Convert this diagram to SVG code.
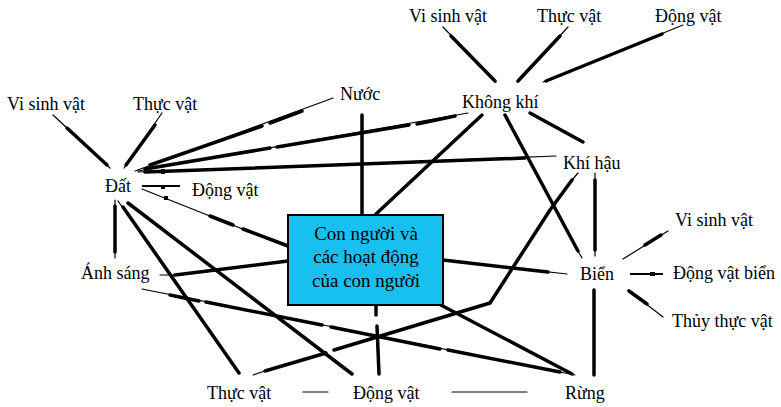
<svg xmlns="http://www.w3.org/2000/svg" width="781" height="407" viewBox="0 0 781 407">
<style>
.bg{fill:#ffffff}
text{font-family:"Liberation Serif","Times New Roman",serif;font-size:18px;fill:#000}
.box{fill:#18c0f0;stroke:#000;stroke-width:2}
.bt{font-size:19px;text-anchor:middle}
.t{stroke:#000;stroke-width:1.2;fill:none;stroke-linecap:round}
.m{stroke:#000;stroke-width:2;fill:none}
.k{stroke:#000;stroke-width:3.5;fill:none;stroke-linecap:round;stroke-linejoin:round}
.sq{fill:#000}
</style>
<rect class="bg" x="0" y="0" width="781" height="407"/>
<g id="connectors">
  <!-- Dat spokes -->
  <line class="t" x1="53" y1="115" x2="110" y2="168"/>
  <line class="k" x1="67" y1="128" x2="107" y2="165"/>
  <line class="t" x1="162" y1="113" x2="124" y2="168"/>
  <line class="k" x1="155" y1="125" x2="126" y2="165"/>
  <!-- Dat - Nuoc -->
  <line class="t" x1="135" y1="171" x2="333" y2="98"/>
  <line class="k" x1="150" y1="165" x2="262" y2="126"/>
  <line class="k" x1="270" y1="123" x2="302" y2="111"/>
  <!-- Dat - Khong khi -->
  <line class="t" x1="138" y1="171" x2="468" y2="113"/>
  <line class="k" x1="145" y1="169" x2="270" y2="148"/>
  <line class="k" x1="277" y1="147" x2="409" y2="125"/>
  <line class="k" x1="417" y1="124" x2="455" y2="116"/>
  <!-- Dat - Khi hau -->
  <line class="t" x1="138" y1="172" x2="556" y2="156"/>
  <line class="k" x1="145" y1="172" x2="525" y2="158"/>
  <rect class="sq" x="161" y="169" width="4" height="5"/>
  <!-- Dat - Dong vat -->
  <line class="m" x1="142" y1="186" x2="180" y2="186"/>
  <rect class="sq" x="161" y="185" width="4" height="4"/>
  <!-- Dat - box -->
  <line class="t" x1="142" y1="189" x2="288" y2="247"/>
  <line class="k" x1="210" y1="216" x2="233" y2="225"/>
  <line class="k" x1="243" y1="229" x2="288" y2="246"/>
  <rect class="sq" x="164" y="196" width="4" height="4"/>
  <!-- Dat - Anh sang -->
  <line class="t" x1="115" y1="200" x2="115" y2="258"/>
  <line class="k" x1="115" y1="206" x2="115" y2="252"/>
  <!-- Dat - Thuc vat (bottom) -->
  <line class="t" x1="118" y1="201" x2="182" y2="293"/>
  <line class="k" x1="123" y1="207" x2="239" y2="373"/>
  <!-- Dat - Dong vat (bottom) -->
  <line class="k" x1="128" y1="203" x2="352" y2="374"/>
  <!-- Anh sang - box -->
  <line class="t" x1="160" y1="275" x2="178" y2="275"/>
  <line class="k" x1="175" y1="275" x2="288" y2="261"/>
  <!-- Anh sang - Rung -->
  <line class="t" x1="142" y1="289" x2="575" y2="375"/>
  <line class="k" x1="170" y1="295" x2="199" y2="301"/>
  <line class="k" x1="206" y1="302" x2="322" y2="325"/>
  <line class="k" x1="331" y1="327" x2="440" y2="349"/>
  <line class="k" x1="448" y1="350" x2="560" y2="372"/>
  <!-- box - Bien -->
  <line class="t" x1="443" y1="260" x2="567" y2="274"/>
  <line class="k" x1="443" y1="260" x2="548" y2="272"/>
  <!-- box - Rung -->
  <line class="k" x1="437" y1="303" x2="572" y2="374"/>
  <!-- box - Dong vat (bottom) -->
  <line class="k" x1="376" y1="305" x2="376" y2="315"/>
  <line class="k" x1="377" y1="326" x2="379" y2="374"/>
  <!-- Nuoc - box -->
  <line class="k" x1="362" y1="115" x2="362" y2="215"/>
  <!-- Khong khi - box -->
  <line class="k" x1="482" y1="115" x2="376" y2="214"/>
  <!-- Thuc vat - Khi hau -->
  <polyline class="t" points="253,375 265,371"/>
  <polyline class="k" points="265,371 326,353"/>
  <polyline class="k" points="334,350 490,303 550,210 572,180"/>
  <line class="t" x1="572" y1="180" x2="578" y2="173"/>
  <!-- Khong khi - Bien -->
  <line class="k" x1="505" y1="115" x2="578" y2="251"/>
  <line class="t" x1="578" y1="251" x2="582" y2="258"/>
  <!-- Khong khi - Khi hau -->
  <line class="k" x1="530" y1="113" x2="583" y2="142"/>
  <!-- Khi hau - Bien -->
  <line class="t" x1="595" y1="173" x2="595" y2="256"/>
  <line class="k" x1="595" y1="180" x2="595" y2="250"/>
  <!-- Bien - Rung -->
  <line class="k" x1="594" y1="290" x2="594" y2="375"/>
  <!-- bottom row -->
  <line class="t" x1="303" y1="392" x2="328" y2="392"/>
  <line class="t" x1="452" y1="392" x2="527" y2="392"/>
  <!-- Khong khi spokes -->
  <line class="t" x1="443" y1="27" x2="496" y2="82"/>
  <line class="k" x1="451" y1="36" x2="495" y2="81"/>
  <line class="t" x1="568" y1="27" x2="517" y2="82"/>
  <line class="k" x1="560" y1="36" x2="518" y2="81"/>
  <line class="t" x1="683" y1="25" x2="543" y2="82"/>
  <line class="k" x1="662" y1="34" x2="546" y2="81"/>
  <!-- Bien spokes -->
  <line class="t" x1="668" y1="231" x2="623" y2="259"/>
  <line class="k" x1="661" y1="235" x2="645" y2="245"/>
  <line class="m" x1="630" y1="274" x2="663" y2="274"/>
  <rect class="sq" x="650" y="272" width="5" height="4"/>
  <line class="t" x1="628" y1="290" x2="663" y2="317"/>
  <line class="k" x1="629" y1="291" x2="647" y2="304"/>
</g>
<g id="node-box">
  <rect class="box" x="288" y="215" width="155" height="90"/>
  <text class="bt" x="366" y="240">Con người và</text>
  <text class="bt" x="366" y="263">các hoạt động</text>
  <text class="bt" x="366" y="287">của con người</text>
</g>
<g id="node-dat"><text x="105" y="192">Đất</text></g>
<g id="node-dat-vsv"><text x="7" y="110">Vi sinh vật</text></g>
<g id="node-dat-tv"><text x="133" y="110">Thực vật</text></g>
<g id="node-dat-dv"><text x="192" y="196">Động vật</text></g>
<g id="node-nuoc"><text x="340" y="100">Nước</text></g>
<g id="node-khongkhi"><text x="462" y="108">Không khí</text></g>
<g id="node-kk-vsv"><text x="409" y="22">Vi sinh vật</text></g>
<g id="node-kk-tv"><text x="537" y="22">Thực vật</text></g>
<g id="node-kk-dv"><text x="655" y="22">Động vật</text></g>
<g id="node-khihau"><text x="563" y="169">Khí hậu</text></g>
<g id="node-anhsang"><text x="81" y="279">Ánh sáng</text></g>
<g id="node-bien"><text x="580" y="280">Biển</text></g>
<g id="node-bien-vsv"><text x="675" y="226">Vi sinh vật</text></g>
<g id="node-bien-dv"><text x="673" y="279">Động vật biển</text></g>
<g id="node-bien-ttv"><text x="672" y="327">Thủy thực vật</text></g>
<g id="node-tv"><text x="207" y="399">Thực vật</text></g>
<g id="node-dv"><text x="353" y="399">Động vật</text></g>
<g id="node-rung"><text x="565" y="399">Rừng</text></g>
</svg>
